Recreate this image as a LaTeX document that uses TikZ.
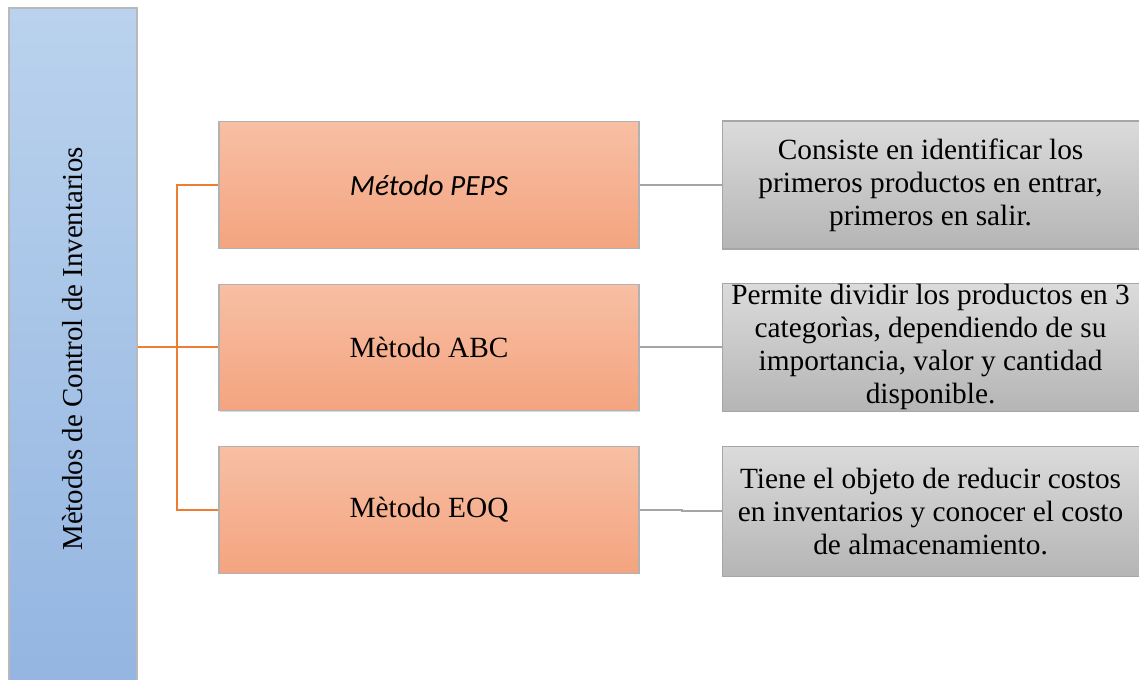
\documentclass[tikz,border=0pt]{standalone}
\usepackage{fontspec}
\setmainfont{Liberation Serif}
\newfontfamily\calibri{Carlito}
\usepackage{tikz}
\usetikzlibrary{
  positioning,
  shadows
}

\definecolor{azulA}{HTML}{BAD2ED}
\definecolor{azulB}{HTML}{93B5E1}
\definecolor{naranjaA}{HTML}{F7BFA4}
\definecolor{naranjaB}{HTML}{F4A47F}
\definecolor{grisA}{HTML}{DBDBDB}
\definecolor{grisB}{HTML}{B5B5B5}
\definecolor{lineaN}{HTML}{ED7D31}
\definecolor{lineaG}{HTML}{A5A5A5}

\begin{document}
\begin{tikzpicture}[
    x=0.75pt,y=-0.75pt,
    eje/.style={
    draw=gray!55,
    line width=0.8pt,
    top color=azulA,
    bottom color=azulB,
    minimum width=96pt,
    minimum height=511.5pt,
    inner sep=0pt,
    font=\fontsize{21.7}{26}\selectfont
    },
    metodo/.style={
    draw=gray!60,
    line width=0.8pt,
    top color=naranjaA,
    bottom color=naranjaB,
    minimum width=315pt,
    minimum height=95pt,
    inner sep=0pt,
    font=\fontsize{22}{24}\selectfont,
    drop shadow={shadow xshift=0.8pt,shadow yshift=-0.8pt,opacity=0.3}
    },
    detalle/.style={
    draw=gray!70,
    line width=0.8pt,
    top color=grisA,
    bottom color=grisB,
    minimum width=312.75pt,
    minimum height=96pt,
    align=center,
    inner sep=0pt,
    font=\fontsize{22}{24.75}\selectfont,
    drop shadow={shadow xshift=0.8pt,shadow yshift=-0.8pt,opacity=0.3}
    },
    ramal/.style={draw=lineaN,line width=1.5pt},
    enlace/.style={draw=lineaG,line width=1.5pt}
    ]
    
    \clip (0,0) rectangle (1139,680);
    
    \node[eje] (inv) at (73,349)
    {\rotatebox{90}{Mètodos de Control de Inventarios}};
    
    \node[metodo] (peps) at (429,185)
    {\calibri\itshape Método PEPS};
    
    \node[metodo,below=26pt of peps]
    (abc){Mètodo ABC};
    
    \node[metodo,below=26pt of abc]
    (eoq){Mètodo EOQ};
    
    \node[detalle,right=61.5pt of peps]
    (d1){Consiste en identificar los\\primeros productos en entrar,\\primeros en salir.};
    
    \node[detalle,right=61.5pt of abc]
    (d2){Permite dividir los productos en 3\\categorìas, dependiendo de su\\importancia, valor y cantidad\\disponible.};
    
    \node[detalle,minimum height=97.5pt,right=61.5pt of eoq,yshift=-1.2pt]
    (d3){Tiene el objeto de reducir costos\\en inventarios y conocer el costo\\de almacenamiento.};
    
    \draw[ramal](inv.east |- abc.west)--(abc.west);
    \draw[ramal](peps.west)--++(-41,0)|-(eoq.west);
    
    \draw[enlace](peps)--(d1);
    \draw[enlace](abc)--(d2);
    \draw[enlace](eoq.east)--++(42,0)|-(d3.west);
    
    \end{tikzpicture}
\end{document}
